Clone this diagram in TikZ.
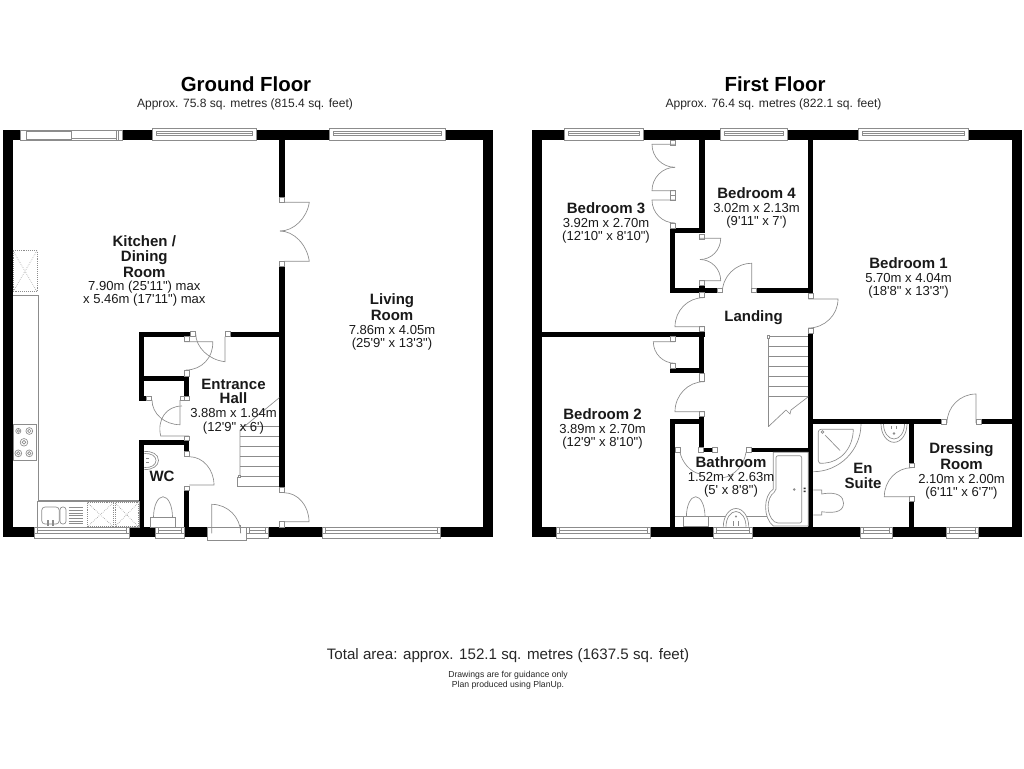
\documentclass[tikz,border=0pt]{standalone}
\usepackage{fontspec}
\setmainfont{Liberation Sans}[Ligatures=TeXOff]
\definecolor{ln}{gray}{0.55}
\newcommand\wl[4]{\fill[black] (#1,#2) rectangle (#3,#4);}
\newcommand\jb[4]{\draw[ln,line width=.5pt,fill=white] (#1,#2) rectangle (#3,#4);}
\newcommand\dr[6]{%
  \pgfmathsetmacro\pa{#3+.5523*(#5-#1)}\pgfmathsetmacro\pb{#4+.5523*(#6-#2)}%
  \pgfmathsetmacro\pc{#5+.5523*(#3-#1)}\pgfmathsetmacro\pd{#6+.5523*(#4-#2)}%
  \draw[ln,line width=.5pt] (#1,#2)--(#3,#4) .. controls (\pa,\pb) and (\pc,\pd) .. (#5,#6);}
\newcommand\bowl[4]{% cx, base y, half width, height (negative = downwards)
  \pgfmathsetmacro\pa{#1-#3}\pgfmathsetmacro\pb{#1+#3}\pgfmathsetmacro\pc{#2-#4}%
  \pgfmathsetmacro\pd{#2-.5523*#4}\pgfmathsetmacro\pe{#1-.5523*#3}\pgfmathsetmacro\pf{#1+.5523*#3}%
  \draw[ln,line width=.5pt,fill=white] (\pa,#2) .. controls (\pa,\pd) and (\pe,\pc) .. (#1,\pc) .. controls (\pf,\pc) and (\pb,\pd) .. (\pb,#2);}
\newcommand\wt[2]{% top window x1 x2
  \draw[ln,line width=.55pt,fill=white] (#1,128.3) rectangle (#2,140);
  \draw[ln,line width=.45pt] (#1+4,131) rectangle (#2-4,135.7);
  \draw[ln,line width=.45pt] (#1+4,133.2)--(#2-4,133.2);}
\newcommand\wb[2]{% bottom window x1 x2
  \draw[ln,line width=.55pt,fill=white] (#1,527) rectangle (#2,538.3);
  \draw[ln,line width=.45pt] (#1+3,527)--(#1+3,533) (#2-3,527)--(#2-3,533) (#1+3,530)--(#2-3,530) (#1,533)--(#2,533);}
\tikzset{
  thinl/.style={ln,line width=.5pt},
  dashl/.style={ln,line width=.45pt,densely dotted},
  title/.style={font=\fontsize{15.3}{18}\selectfont\bfseries,inner sep=0pt},
  subt/.style={font=\fontsize{9.05}{11}\selectfont,inner sep=0pt,text=black!85},
  room/.style={inner sep=0pt,align=center,text=black!90,font=\fontsize{9.8}{9.8}\selectfont},
}
\newcommand\rn[1]{{\fontsize{11.25}{11.25}\selectfont\bfseries #1}}
\newcommand\rd[1]{{\fontsize{9.8}{9.8}\selectfont #1}}
\begin{document}
\begin{tikzpicture}[x=0.75pt,y=-0.75pt]
\useasboundingbox (0,0) rectangle (1024,768);
% ---------- GROUND FLOOR walls
\wl{3}{130}{492.7}{140}
\wl{3}{527}{492.7}{537}
\wl{3}{130}{13}{537}
\wl{482.7}{130}{492.7}{537}
\wl{279.3}{140}{285}{197}
\wl{279.3}{266}{285}{487.7}
\wl{139.3}{331.7}{190.7}{336.7}
\wl{230}{331.7}{279.3}{336.7}
\wl{139.3}{331.7}{144.3}{400.7}
\wl{144.3}{376}{189.3}{381}
\wl{144.3}{396}{146.7}{400.7}
\wl{184.3}{376}{189.3}{400.7}
\wl{139.3}{440}{189.3}{445}
\wl{139.3}{440}{144.3}{527}
\wl{184.3}{440}{189.3}{451}
\wl{184.3}{490.7}{189.3}{527}
% jambs
\jb{279.3}{197}{284.3}{202.3}
\jb{279.3}{261.7}{284.3}{266}
\jb{190.7}{331.7}{195.5}{336.7}
\jb{184.3}{336.7}{189.3}{341.7}
\jb{225}{331.7}{230}{336.7}
\jb{184.3}{370.7}{189.3}{376}
\jb{146.7}{396}{151.7}{400.7}
\jb{180.5}{396}{184.3}{400.7}
\jb{184.3}{396}{189.3}{400.7}
\jb{184.3}{436}{189.3}{440}
\jb{184.3}{451}{189.3}{456}
\jb{184.3}{486}{189.3}{490.7}
\jb{279.3}{487.7}{284.3}{492.7}
\jb{279.3}{521.7}{284.3}{527}
% doors
\dr{284.3}{202.3}{309.3}{202.3}{280}{231}
\dr{284.3}{261.3}{309.3}{261.3}{280}{231}
\dr{184.3}{341.7}{212.7}{341.7}{186}{370}
\dr{225}{336.7}{225}{361.7}{195.7}{333.5}
\dr{180}{400}{180}{424.7}{152}{400}
\dr{189}{436}{160.7}{436}{182}{406}
\dr{189.3}{485}{214}{485}{189.3}{456.7}
\dr{284}{521.7}{309}{521.7}{284}{492.7}
% windows
\wt{152.7}{256}
\wt{329.3}{445.7}
\draw[thinl,fill=white] (20.7,130) rectangle (122.7,140);
\draw[thinl] (26.7,131.5) rectangle (71.7,139) (71.7,130) rectangle (116.7,138.5) (116.7,130)--(116.7,140) (118.7,130)--(118.7,140);
\wb{34.3}{129.3}
\wb{155}{184.3}
\wb{246.7}{268.3}
\wb{322}{440}
% entrance door
\draw[thinl,fill=white] (207,527) rectangle (246.7,540);
\dr{211.7}{533.3}{211.7}{504.3}{240.7}{533.3}
\draw[thinl] (240.7,525)--(240.7,533.3);
% kitchen units
\draw[thinl] (13,295.3)--(38.3,295.3)--(38.3,500.5)--(139.3,500.5);
\draw[dashl] (13,250.7) rectangle (37,291.7);
\draw[dashl] (13,250.7)--(37,291.7) (37,250.7)--(13,291.7);
\draw[thinl] (13,424.7) rectangle (36.7,460);
\foreach \cx/\cy/\rr in {18.3/431/2.6,29.3/431/3.4,24/442.3/3.8,18.3/453.3/3.4,29.3/453.3/3.4}{
  \draw[thinl] (\cx,\cy) circle[radius=\rr];
  \draw[thinl] (\cx,\cy) circle[radius=\rr*.5];}
\draw[thinl] (37.3,501.7) rectangle (139,527);
\draw[thinl,rounded corners=2.5pt] (41.7,507) rectangle (59.3,524);
\draw[thinl,rounded corners=2pt] (60,507) rectangle (66,524);
\foreach \yy in {507.5,510.2,512.9,515.6,518.3,521,523.7}{\draw[ln,line width=.4pt] (68.5,\yy)--(83,\yy);}
\draw[thinl] (47,520) rectangle (48.8,525.5) (52,520) rectangle (53.8,525.5);
\draw[dashl] (87.3,502.7) rectangle (113.3,526.7);
\draw[dashl] (87.3,502.7)--(113.3,526.7) (113.3,502.7)--(87.3,526.7);
\draw[dashl] (115,502.7) rectangle (138.3,526.7);
\draw[dashl] (115,502.7)--(138.3,526.7) (138.3,502.7)--(115,526.7);
% WC fittings
\draw[thinl] (144.3,451.5) .. controls (152,451) and (158.5,454) .. (158.5,460.5) .. controls (158.5,466) and (152,470) .. (144.3,469.5);
\draw[thinl] (144.3,453.5) .. controls (151,453) and (156,456) .. (156,460.5) .. controls (156,465) and (151,468) .. (144.3,467.5);
\draw[thinl] (146,458.5)--(149,458.5) (146,462.5)--(149,462.5);
\bowl{163}{517.3}{9.5}{20.6}
\draw[thinl] (150,517.3) rectangle (175.7,527);
% stairs (ground)
\draw[thinl] (240,476.7)--(240,430)--(279.3,397.7);
\foreach \yy in {426.7,436.7,446.7,456.7,466.7,476.7}{\draw[thinl] (240,\yy)--(279.3,\yy);}
\draw[thinl] (237,476.7)--(237,486.7)--(279.3,486.7);
\draw[thinl,fill=white] (238,475.3) rectangle (240.5,477.5);
% ---------- FIRST FLOOR walls
\wl{531.7}{130}{1022}{140}
\wl{531.7}{527}{1022}{537}
\wl{531.7}{130}{541.7}{537}
\wl{1012}{130}{1022}{537}
\wl{699.3}{140}{704.7}{233.3}
\wl{670}{228.3}{704.7}{233.3}
\wl{670}{228.3}{675}{292.7}
\wl{670}{288}{717.3}{292.7}
\wl{699.3}{285.7}{704.7}{292.7}
\wl{756.7}{288}{813.3}{292.7}
\wl{808.3}{140}{813.3}{292.7}
\wl{541.7}{331.7}{704.7}{336.7}
\wl{699.3}{331.7}{704}{373.3}
\wl{670}{368.3}{704}{373.3}
\wl{699.3}{416}{704.3}{448}
\wl{670}{419}{704}{424}
\wl{670}{419}{675}{527}
\wl{703.3}{447.7}{712.3}{451.7}
\wl{751}{447.7}{808.3}{452.3}
\wl{808.3}{333.3}{813.3}{527}
\wl{813}{419}{941.7}{424}
\wl{981}{419}{1012}{424}
\wl{909}{424}{914}{463.3}
\wl{909}{501.3}{914}{527}
% jambs
\jb{670}{140}{675}{145}
\jb{670}{190.7}{675}{200}
\draw[thinl] (670,195.3)--(675,195.3);
\jb{670}{223}{675}{228.3}
\jb{699.3}{234}{704.7}{239}
\jb{699.3}{280.7}{704.7}{285.7}
\jb{699.3}{292.7}{704.7}{297.7}
\jb{717.3}{288}{722.3}{292.7}
\jb{751.7}{288}{756.7}{292.7}
\jb{808.3}{293.3}{813.3}{298.5}
\jb{808.3}{328.3}{813.3}{333.3}
\jb{699.3}{326.7}{704.7}{331.7}
\jb{670}{336.7}{675}{341.7}
\jb{670}{363.3}{675}{368.3}
\jb{699.3}{373.3}{704.3}{381.7}
\jb{699.3}{411.7}{704.3}{416}
\jb{698.3}{447.7}{703.3}{452.3}
\jb{675}{447.7}{680}{452.3}
\jb{712.3}{447.7}{717.3}{452.3}
\jb{746}{447.7}{751}{452.3}
\jb{941.7}{419}{946.7}{424}
\jb{976}{419}{981}{424}
\jb{909}{463.3}{914}{467.7}
\jb{909}{496.7}{914}{501.3}
% doors
\dr{675}{144.3}{652}{144.3}{675}{167.3}
\dr{675}{190.7}{652}{190.7}{675}{167.3}
\dr{675}{200}{652}{200}{675}{223}
\dr{700}{238.3}{720.7}{238.3}{700}{259.5}
\dr{700}{280.7}{720.7}{280.7}{700}{259.5}
\dr{751.7}{292.7}{751.7}{263.3}{722.3}{292.7}
\dr{703.3}{326.7}{675}{326.7}{703.3}{297.7}
\dr{675}{341.7}{653.3}{341.7}{675}{363.3}
\dr{704}{411.7}{675}{411.7}{704}{381.7}
\dr{808.3}{299}{838}{299}{808.3}{328}
\dr{976}{423}{976}{394}{947}{423}
\dr{911.7}{496.7}{884.3}{496.7}{911.7}{467.7}
% bathroom door arcs
\draw[thinl] (680,452.3) .. controls (682,462) and (690,472) .. (700,474);
\draw[thinl] (746,452.3) .. controls (744,465) and (735,476) .. (722,478);
% windows
\wt{564.7}{643.3}
\wt{720.7}{787.7}
\wt{858}{968}
\wb{556}{650}
\wb{713.3}{752.7}
\wb{860}{892.7}
\wb{946}{978.3}
% stairs (first)
\draw[thinl] (768.3,426.7)--(768.3,336.7)--(808.3,336.7);
\foreach \yy in {346.7,356.7,366.7,376.7,386.7,396.7}{\draw[thinl] (768.3,\yy)--(808.3,\yy);}
\draw[thinl] (808.3,396.7)--(791,410)--(790,414)--(786,410)--(768.3,426.7);
\draw[thinl,fill=white] (767.3,335.7) rectangle (769.7,338.2);
% shower
\draw[thinl] (861,424) .. controls (861,450) and (839.5,471.7) .. (813.3,471.7);
\draw[thinl,rounded corners=2pt] (853.3,429.3) -- (818.3,429.3) -- (818.3,463.3) -- (822,463.3) .. controls (840,462) and (853,449) .. (853.3,429.3);
\draw[thinl] (825,435)--(840,450.5);
\draw[thinl] (822.5,432) circle[radius=1.3];
% en suite basin
\bowl{894}{424}{13}{-18.3}
\bowl{894}{424}{10.5}{-15}
\draw[thinl] (891.5,425.5)--(891.5,429) (896.5,425.5)--(896.5,429);
\draw[thinl] (894,433.5) circle[radius=.8];
% en suite toilet
\draw[thinl] (813.3,490)--(821.7,490)--(821.7,494) .. controls (838,491) and (843.5,497) .. (843.5,503) .. controls (843.5,510) and (838,514) .. (821.7,511.7)--(821.7,515)--(813.3,515);
% bathroom fittings
\draw[thinl] (675,516.7)--(767,516.7);
\bowl{695.7}{516.7}{9.3}{20}
\draw[thinl] (683.3,516.7) rectangle (708.3,526.5);
\bowl{736}{526.5}{12.7}{18}
\bowl{736}{526.5}{10}{15}
\draw[thinl] (733.5,521)--(733.5,526) (738.5,521)--(738.5,526);
\draw[thinl] (736,516.5) circle[radius=.6];
\draw[thinl,fill=white] (773.3,452.3)--(773.3,489) .. controls (763,496) and (763,518) .. (773.3,526)--(808.3,526)--(808.3,452.3)--cycle;
\draw[thinl,rounded corners=1.5pt] (776,455.7)--(776,491) .. controls (766,498) and (766,515) .. (776,523)--(801.7,523)--(801.7,455.7)--cycle;
\fill[black!80] (803.5,487.5) rectangle (805.5,489) (803.5,490.5) rectangle (805.5,492);
\draw[thinl] (794.3,489.5) circle[radius=.9];
% ---------- TEXT
\node[title] (gft) at (246,84.5) {Ground Floor};
\node[subt] (gfs) at (245,104) {Approx. 75.8 sq. metres (815.4 sq. feet)};
\node[title] (fft) at (775,84.5) {First Floor};
\node[subt] (ffs) at (773.5,104) {Approx. 76.4 sq. metres (822.1 sq. feet)};
\node[room] (kit) at (144.3,271) {\rn{Kitchen /}\\[1.2pt]\rn{Dining}\\[1.2pt]\rn{Room}\\[0pt]\rd{7.90m (25'11") max}\\\rd{x 5.46m (17'11") max}};
\node[room] (liv) at (392,321.5) {\rn{Living}\\[1pt]\rn{Room}\\[.5pt]\rd{7.86m x 4.05m}\\\rd{(25'9" x 13'3")}};
\node[room] (hall) at (233.5,406.3) {\rn{Entrance}\\[1.2pt]\rn{Hall}\\[.8pt]\rd{3.88m x 1.84m}\\\rd{(12'9" x 6')}};
\node[room] (wc) at (162,476) {\rn{WC}};
\node[room] (b3) at (606,222.8) {\rn{Bedroom 3}\\[.8pt]\rd{3.92m x 2.70m}\\\rd{(12'10" x 8'10")}};
\node[room] (b4) at (756.5,207.7) {\rn{Bedroom 4}\\[.8pt]\rd{3.02m x 2.13m}\\\rd{(9'11" x 7')}};
\node[room] (land) at (753.5,318) {\rn{Landing}};
\node[room] (b2) at (602.5,429) {\rn{Bedroom 2}\\[.8pt]\rd{3.89m x 2.70m}\\\rd{(12'9" x 8'10")}};
\node[room] (b1) at (908.5,278) {\rn{Bedroom 1}\\[.8pt]\rd{5.70m x 4.04m}\\\rd{(18'8" x 13'3")}};
\node[room] (bath) at (731,477) {\rn{Bathroom}\\[.8pt]\rd{1.52m x 2.63m}\\\rd{(5' x 8'8")}};
\node[room] (ens) at (863,476) {\rn{En}\\[2pt]\rn{Suite}};
\node[room] (dress) at (961.5,471.3) {\rn{Dressing}\\[.8pt]\rn{Room}\\[.8pt]\rd{2.10m x 2.00m}\\\rd{(6'11" x 6'7")}};
\node[inner sep=0pt,text=black!85,font=\fontsize{11.35}{13}\selectfont] (tot) at (508,655.5) {Total area: approx. 152.1 sq. metres (1637.5 sq. feet)};
\node[inner sep=0pt,align=center,text=black!85,font=\fontsize{6.5}{7.6}\selectfont] (note) at (508,680) {Drawings are for guidance only\\Plan produced using PlanUp.};
\end{tikzpicture}
\end{document}
